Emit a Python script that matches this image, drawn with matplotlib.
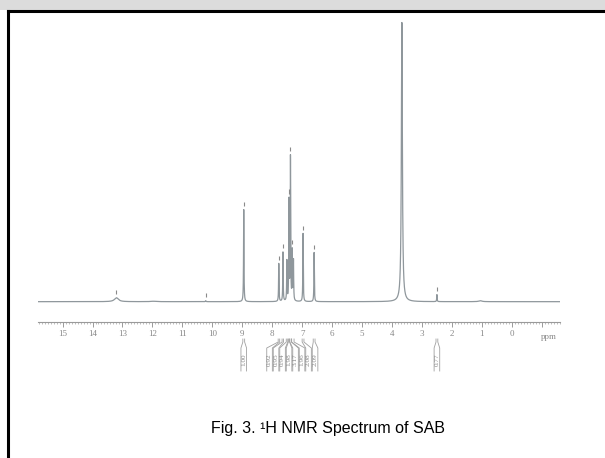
import matplotlib
matplotlib.use("Agg")
import matplotlib.pyplot as plt
import matplotlib.transforms as mtransforms
from matplotlib.ticker import MultipleLocator
import numpy as np

# peak list (ppm, relative height, half width in ppm)
peak_ppm = [13.20, 11.97, 10.22, 8.95, 7.78, 7.64, 7.51, 7.44, 7.39, 7.33, 7.29, 6.97, 6.60, 3.67, 2.50, 1.05]
peak_height = [1.4, 0.15, 0.35, 33.0, 13.6, 17.6, 14.3, 35.8, 51.3, 17.6, 14.3, 24.4, 17.6, 100.0, 2.5, 0.35]
peak_width = [0.08, 0.10, 0.01, 0.008, 0.008, 0.008, 0.008, 0.008, 0.008, 0.008, 0.008, 0.008, 0.008, 0.02, 0.008, 0.06]
picked = [13.20, 10.22, 8.95, 7.78, 7.64, 7.44, 7.39, 7.33, 6.97, 6.60, 2.50]

# integrals: ranges (ppm) and values
int_from = [8.98, 7.80, 7.67, 7.53, 7.46, 7.41, 7.35, 7.00, 6.63, 2.53]
int_to = [8.92, 7.75, 7.62, 7.48, 7.42, 7.36, 7.27, 6.94, 6.57, 2.47]
int_value = ["1.00", "0.92", "0.95", "0.94", "1.98", "3.17", "1.96", "2.08", "2.09", "0.77"]

tick_ppm = list(range(15, -2, -1))
tick_text = [str(t) for t in tick_ppm[:-1]] + [""]

W, H = 605, 458
fig = plt.figure(figsize=(W / 100, H / 100), dpi=100)

# frame of the figure box
fig.patches.append(plt.Rectangle((0, 1 - 9.5 / H), 1, 9.5 / H, transform=fig.transFigure,
                                 color="#dcdcdc", lw=0))
fig.add_artist(plt.Line2D([7.5 / W, 1], [1 - 11 / H, 1 - 11 / H], color="black", lw=2.2,
                          transform=fig.transFigure))
fig.add_artist(plt.Line2D([7.5 / W, 7.5 / W], [0, 1 - 11 / H], color="black", lw=2.2,
                          transform=fig.transFigure))

ax = fig.add_axes([38 / W, 1 - 322 / H, 522 / W, 302 / H])
ax.set_xlim(15.82, -1.61)
ax.set_ylim(-7.28, 100.9)

x = np.linspace(15.82, -1.61, 40000)
y = np.zeros_like(x)
for p, h, w in zip(peak_ppm, peak_height, peak_width):
    y += h * w ** 2 / ((x - p) ** 2 + w ** 2)
ax.plot(x, y, color="#8f979c", lw=0.9)

# peak picking marks
for p in picked:
    top = np.interp(-p, -x, y)
    ax.vlines(p, top + 1.3, top + 2.8, color="#8a8a8a", lw=0.8)

for s in ["top", "left", "right"]:
    ax.spines[s].set_visible(False)
ax.spines["bottom"].set_color("#9a9a9a")
ax.spines["bottom"].set_linewidth(0.8)
ax.set_yticks([])
ax.set_xticks(tick_ppm)
ax.set_xticklabels(tick_text, fontsize=6.5, family="Liberation Serif", color="#888888")
ax.xaxis.set_minor_locator(MultipleLocator(0.1))
ax.tick_params(axis="x", which="major", length=3.5, width=0.7, color="#9a9a9a", pad=2)
ax.tick_params(axis="x", which="minor", length=1.5, width=0.5, color="#a5a5a5")
ax.text(-1.25, -7.28, "ppm", transform=ax.transData, fontsize=6.5, family="Liberation Serif",
        color="#888888", ha="center", va="top")
ax.texts[-1].set_y(-7.28 - 4.0)

# integral labels below the axis (x in ppm, y in figure pixels)
trans = mtransforms.blended_transform_factory(ax.transData, fig.transFigure)
ppm_per_px = (15.82 + 1.61) / 522
centers = [(a + b) / 2 for a, b in zip(int_from, int_to)]
order = sorted(range(len(centers)), key=lambda i: -centers[i])
label_x = list(centers)
gap = 6.5 * ppm_per_px
groups = [[order[0]]]
for i in order[1:]:
    if centers[groups[-1][-1]] - centers[i] < 1.0:
        groups[-1].append(i)
    else:
        groups.append([i])
for g in groups:
    mean = sum(centers[i] for i in g) / len(g)
    start = mean + gap * (len(g) - 1) / 2
    for k, i in enumerate(g):
        label_x[i] = start - k * gap

hw = 2.8 * ppm_per_px
fy = lambda py: 1 - py / H
for a, b, lx, v in zip(int_from, int_to, label_x, int_value):
    for edge, side in ((a, lx + hw), (b, lx - hw)):
        ax.plot([edge, edge, side, side], [fy(339), fy(342), fy(348), fy(371)],
                transform=trans, color="#a0a0a0", lw=0.6, clip_on=False)
    ax.text(lx, fy(359.5), v, transform=trans, rotation=90, fontsize=5.2,
            family="Liberation Serif", color="#8a8a8a", ha="center", va="center")

fig.text(328 / W, fy(428), "Fig. 3. \u00b9H NMR Spectrum of SAB", fontsize=11.5,
         family="Liberation Sans", color="black", ha="center", va="center")

fig.savefig("out.png", dpi=100)
